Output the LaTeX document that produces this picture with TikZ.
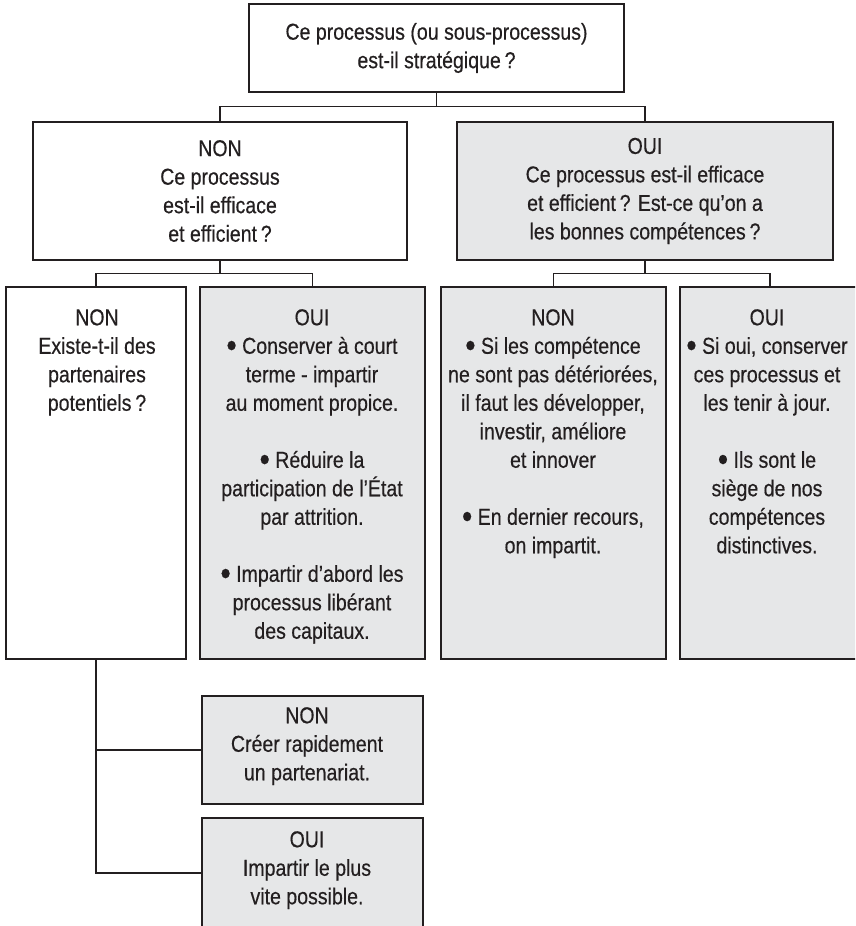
\documentclass[tikz,border=0pt]{standalone}
\usepackage{fontspec}
\setmainfont{Liberation Sans}[FakeStretch=0.85, FakeBold=0.4]
\definecolor{boxgray}{HTML}{E6E7E8}
\definecolor{ink}{HTML}{231F20}
\newcommand{\puce}{\raisebox{-0.14em}{\scalebox{1.5}{•}}}
\begin{document}
\begin{tikzpicture}[x=1pt, y=-1pt,
	box/.style={draw=ink, line width=1.4pt, inner sep=0pt},
	wbox/.style={box, fill=white},
	gbox/.style={box, fill=boxgray},
	txt/.style={text=ink, align=center, inner sep=0pt, font=\fontsize{23}{28.5}\selectfont},
	wire/.style={draw=ink, line width=1.4pt}]
		\useasboundingbox (0,0) rectangle (855,926);
		\clip (0,0) rectangle (855,926);
		\fill[white] (0,0) rectangle (855,926);
		% question boxes
		\node[wbox, txt, minimum width=375pt, minimum height=88pt] (T) at (436.5,48) {Ce processus (ou sous-processus)\\est-il stratégique\,?};
		\node[wbox, txt, minimum width=374pt, minimum height=138pt] (N) at (220,191) {NON\\Ce processus\\est-il efficace\\et efficient\,?};
		\node[gbox, txt, minimum width=376pt, minimum height=138pt] (O) at (645,191) {OUI\\Ce processus est-il efficace\\et efficient\,? Est-ce qu’on a\\les bonnes compétences\,?};
		% answer boxes
		\node[wbox, minimum width=180pt, minimum height=372pt] (A) at (96,473) {};
		\node[gbox, minimum width=225pt, minimum height=372pt] (B) at (312.5,473) {};
		\node[gbox, minimum width=225pt, minimum height=372pt] (C) at (553.5,473) {};
		\node[gbox, minimum width=180pt, minimum height=372pt] (D) at (770,473) {};
		\node[gbox, minimum width=221pt, minimum height=108pt] (E) at (312.5,750) {};
		\node[gbox, minimum width=221pt, minimum height=110pt] (F) at (312.5,873) {};
		\node[txt, anchor=north] (A-t) at (97,309) {NON\\Existe-t-il des\\partenaires\\potentiels\,?};
		\node[txt, anchor=north] (B-t) at (312,309) {OUI\\\puce\ Conserver à court\\terme - impartir\\au moment propice.\\[28.5pt]\puce\ Réduire la\\participation de l’État\\par attrition.\\[28.5pt]\puce\ Impartir d’abord les\\processus libérant\\des capitaux.};
		\node[txt, anchor=north] (C-t) at (553,309) {NON\\\puce\ Si les compétence\\ne sont pas détériorées,\\il faut les développer,\\investir, améliore\\et innover\\[28.5pt]\puce\ En dernier recours,\\on impartit.};
		\node[txt, anchor=north] (D-t) at (767,309) {OUI\\\puce\ Si oui, conserver\\ces processus et\\les tenir à jour.\\[28.5pt]\puce\ Ils sont le\\siège de nos\\compétences\\distinctives.};
		\node[txt, anchor=north] (E-t) at (307,707) {NON\\Créer rapidement\\un partenariat.};
		\node[txt, anchor=north] (F-t) at (307,831) {OUI\\Impartir le plus\\vite possible.};
		% connectors
		\draw[wire] (T.south) -- ++(0,14) coordinate (t1);
		\draw[wire] (N.north) |- (t1) -| (O.north);
		\draw[wire] (N.south) -- ++(0,13) coordinate (n1);
		\draw[wire] (A.north) |- (n1) -| (B.north);
		\draw[wire] (O.south) -- ++(0,13) coordinate (o1);
		\draw[wire] (C.north) |- (o1) -| (D.north);
		\draw[wire] (A.south) |- (E.west);
		\draw[wire] (A.south) |- (F.west);
	\end{tikzpicture}
\end{document}
